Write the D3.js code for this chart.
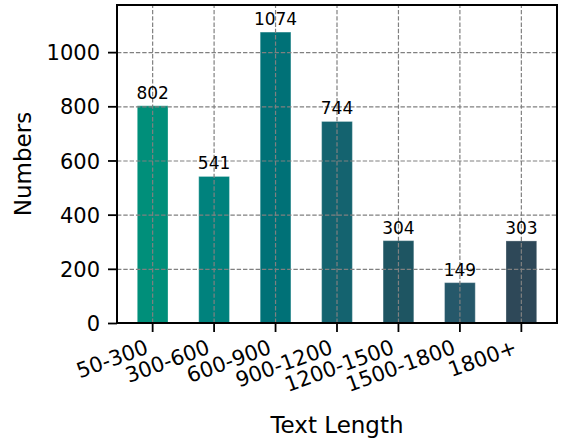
<!DOCTYPE html>
<html>
<head>
<meta charset="utf-8">
<script src="https://cdn.jsdelivr.net/npm/d3@7"></script>
<style>
  body { margin: 0; background: #fff; }
  #chart { width: 561px; height: 439px; }
  text { font-family: "DejaVu Sans", sans-serif; fill: #000; }
  .grid line { stroke: #808080; stroke-width: 1.2; stroke-dasharray: 4.4,1.9; }
  .grid path { display: none; }
  .axis path { display: none; }
  .axis line { stroke: #000; stroke-width: 1.8; }
</style>
</head>
<body>
<div id="chart"></div>
<script>
const categories = ["50-300", "300-600", "600-900", "900-1200", "1200-1500", "1500-1800", "1800+"];
const counts = [802, 541, 1074, 744, 304, 149, 303];
const colors = ["#008f7a", "#00827d", "#007177", "#14636f", "#1e5562", "#26586a", "#2e4858"];
const yTicks = [0, 200, 400, 600, 800, 1000];

const width = 561, height = 439;
const margin = {top: 5, left: 117, right: 4, bottom: 116};

const svg = d3.select("#chart")
    .append("svg")
    .attr("width", width)
    .attr("height", height);

const xScale = d3.scaleBand()
    .domain(categories)
    .range([margin.left, width - margin.right])
    .paddingInner(0.5)
    .paddingOuter(0.33);

const yScale = d3.scaleLinear()
    .domain([0, d3.max(counts) + 100])
    .range([height - margin.bottom, margin.top]);

/* Bars */
const data = categories.map(function(c, i) {
    return {cat: c, value: counts[i], color: colors[i]};
});

svg.selectAll("rect.bar")
    .data(data)
    .enter()
    .append("rect")
    .attr("class", "bar")
    .attr("x", function(d) { return xScale(d.cat); })
    .attr("y", function(d) { return yScale(d.value); })
    .attr("width", xScale.bandwidth())
    .attr("height", function(d) { return yScale(0) - yScale(d.value); })
    .attr("fill", function(d) { return d.color; })
    .attr("stroke", "rgba(255,255,255,0.3)")
    .attr("stroke-width", 1);

/* Grid on top of bars */
svg.append("g")
    .attr("class", "grid")
    .attr("transform", `translate(${margin.left},0)`)
    .call(d3.axisLeft(yScale).tickValues(yTicks)
        .tickSize(-(width - margin.left - margin.right)).tickFormat(""));

svg.append("g")
    .attr("class", "grid")
    .attr("transform", `translate(0,${height - margin.bottom})`)
    .call(d3.axisBottom(xScale)
        .tickSize(-(height - margin.top - margin.bottom)).tickFormat(""));

/* Bar labels */
svg.selectAll("text.barLabel")
    .data(data)
    .enter()
    .append("text")
    .attr("class", "barLabel")
    .attr("x", function(d) { return xScale(d.cat) + xScale.bandwidth() / 2; })
    .attr("y", function(d) { return yScale(d.value) - 7; })
    .attr("text-anchor", "middle")
    .style("font-size", "17px")
    .text(function(d) { return d.value; });

/* Axes */
const yAxis = svg.append("g")
    .attr("class", "axis")
    .attr("font-size", 21)
    .attr("transform", `translate(${margin.left},0)`)
    .call(d3.axisLeft(yScale).tickValues(yTicks).tickFormat(d3.format("d")).tickSize(9).tickPadding(8));
yAxis.selectAll("text").style("font-size", "21px").attr("dy", "0.36em");

const xAxis = svg.append("g")
    .attr("class", "axis")
    .attr("font-size", 21)
    .attr("transform", `translate(0,${height - margin.bottom})`)
    .call(d3.axisBottom(xScale).tickSize(9).tickPadding(0));
xAxis.selectAll("text")
    .style("font-size", "21px")
    .attr("text-anchor", "end")
    .attr("dy", null)
    .attr("y", null)
    .attr("transform", "translate(-3,30) rotate(-20)");

/* Frame */
svg.append("rect")
    .attr("x", margin.left)
    .attr("y", margin.top)
    .attr("width", width - margin.left - margin.right)
    .attr("height", height - margin.top - margin.bottom)
    .attr("fill", "none")
    .attr("stroke", "#000")
    .attr("stroke-width", 2);

/* Axis labels */
svg.append("text")
    .attr("x", (margin.left + width - margin.right) / 2)
    .attr("y", 433)
    .attr("text-anchor", "middle")
    .style("font-size", "23px")
    .text("Text Length");

svg.append("text")
    .attr("x", -(margin.top + height - margin.bottom) / 2)
    .attr("y", 31)
    .attr("text-anchor", "middle")
    .attr("transform", "rotate(-90)")
    .style("font-size", "23px")
    .text("Numbers");
</script>
</body>
</html>
